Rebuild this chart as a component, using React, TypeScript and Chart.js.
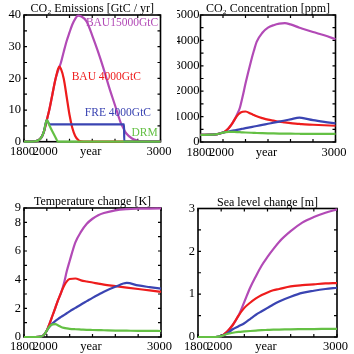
import React, { useEffect, useRef } from "react";
import { Chart, registerables } from "chart.js";
Chart.register(...registerables);

const FONT = "'Liberation Serif', 'Times New Roman', serif";
const PURPLE = "#b24ab6";
const RED = "#ee1c1c";
const BLUE = "#3a44b2";
const GREEN = "#64c044";

// x axis
const X_TICK_VALUES = [1800, 2000, 2400, 3000];
const X_TICK_LABELS = ["1800", "2000", "year", "3000"];

// Panel 1: CO2 emissions [GtC/yr]
const emisYears = [1800, 1900, 1950, 1975, 2000, 2025, 2050, 2075, 2100, 2110, 2125, 2150, 2175, 2200, 2225, 2250, 2275, 2300, 2350, 2400, 2450, 2500, 2550, 2600, 2650, 2680, 2681, 2700, 2750, 2800, 2850, 3000];
const emisBAU15000 = [0, 0.1, 1.2, 3.2, 6.8, 10.5, 15, 19.5, 22.5, 23.5, 25, 28.5, 31.8, 34.5, 37, 38.8, 39.8, 39.6, 38, 33.5, 28.5, 23, 17, 11.5, 6, 3.8, 3.7, 2.6, 1, 0.3, 0, 0];
const emisBAU4000 = [0, 0.1, 1.2, 3.2, 6.8, 10.5, 15, 19.5, 23, 23.7, 23, 19.8, 14.2, 8.5, 4.3, 1.8, 0.6, 0.1, 0, 0, 0, 0, 0, 0, 0, 0, 0, 0, 0, 0, 0, 0];
const emisFRE4000 = [0, 0.1, 1.2, 3.2, 6.8, 5.5, 5.5, 5.5, 5.5, 5.5, 5.5, 5.5, 5.5, 5.5, 5.5, 5.5, 5.5, 5.5, 5.5, 5.5, 5.5, 5.5, 5.5, 5.5, 5.5, 5.5, 0, 0, 0, 0, 0, 0];
const emisDRM = [0, 0.1, 1.2, 3.2, 6.8, 5, 3.2, 1.5, 0, 0, 0, 0, 0, 0, 0, 0, 0, 0, 0, 0, 0, 0, 0, 0, 0, 0, 0, 0, 0, 0, 0, 0];
const emisNoteTexts = ["BAU15000GtC", "BAU 4000GtC", "FRE 4000GtC", "DRM"];
const emisNoteYears = [2344, 2219, 2335, 2745];
const emisNoteValues = [37.6, 20.3, 9.0, 2.8];

// Panel 2: CO2 concentration [ppm]
const concYears = [1800, 1900, 1950, 2000, 2025, 2050, 2075, 2100, 2125, 2150, 2175, 2200, 2250, 2275, 2300, 2350, 2400, 2450, 2500, 2550, 2600, 2680, 2700, 2800, 2900, 3000];
const concBAU15000 = [280, 290, 310, 370, 440, 540, 680, 860, 1080, 1350, 1800, 2300, 3200, 3600, 3950, 4300, 4500, 4600, 4660, 4680, 4630, 4500, 4470, 4330, 4200, 4050];
const concBAU4000 = [280, 290, 310, 370, 440, 540, 680, 860, 1030, 1140, 1190, 1200, 1110, 1060, 1010, 940, 880, 840, 800, 770, 740, 710, 700, 680, 660, 640];
const concFRE4000 = [280, 290, 310, 370, 392, 413, 435, 457, 479, 500, 522, 544, 587, 609, 630, 674, 717, 761, 804, 848, 891, 960, 950, 860, 790, 730];
const concDRM = [280, 290, 310, 370, 390, 400, 400, 395, 390, 385, 380, 375, 365, 360, 355, 348, 342, 337, 333, 330, 327, 324, 323, 320, 318, 316];

// Panel 3: temperature change [K]
const tempYears = [1800, 1900, 1950, 1980, 2000, 2025, 2050, 2075, 2100, 2125, 2150, 2175, 2200, 2250, 2300, 2350, 2400, 2450, 2500, 2600, 2700, 2800, 2900, 3000];
const tempBAU15000 = [0, 0, 0.03, 0.2, 0.45, 0.95, 1.5, 2.05, 2.6, 3.1, 3.75, 4.6, 5.3, 6.6, 7.35, 7.9, 8.25, 8.5, 8.65, 8.84, 8.92, 8.95, 8.96, 8.97];
const tempBAU4000 = [0, 0, 0.03, 0.2, 0.45, 0.95, 1.5, 2.05, 2.6, 3.1, 3.55, 3.88, 4.05, 4.08, 3.95, 3.87, 3.8, 3.72, 3.65, 3.55, 3.45, 3.35, 3.25, 3.15];
const tempFRE4000 = [0, 0, 0.03, 0.2, 0.45, 0.72, 0.95, 1.12, 1.27, 1.4, 1.53, 1.66, 1.79, 2.03, 2.27, 2.5, 2.73, 2.95, 3.16, 3.5, 3.77, 3.6, 3.48, 3.37];
const tempDRM = [0, 0, 0.03, 0.2, 0.45, 0.75, 0.88, 0.9, 0.8, 0.7, 0.64, 0.6, 0.57, 0.54, 0.52, 0.5, 0.49, 0.48, 0.47, 0.45, 0.44, 0.43, 0.43, 0.42];

// Panel 4: sea level change [m]
const seaYears = [1800, 1900, 1950, 2000, 2050, 2100, 2150, 2200, 2250, 2300, 2350, 2400, 2450, 2500, 2600, 2700, 2800, 2900, 3000];
const seaBAU15000 = [0, 0, 0, 0.02, 0.12, 0.28, 0.5, 0.82, 1.15, 1.42, 1.67, 1.87, 2.05, 2.22, 2.47, 2.67, 2.8, 2.9, 2.98];
const seaBAU4000 = [0, 0, 0, 0.02, 0.12, 0.28, 0.5, 0.68, 0.8, 0.9, 0.98, 1.04, 1.09, 1.12, 1.18, 1.21, 1.23, 1.25, 1.26];
const seaFRE4000 = [0, 0, 0, 0.02, 0.08, 0.18, 0.25, 0.32, 0.42, 0.52, 0.6, 0.68, 0.76, 0.83, 0.94, 1.03, 1.08, 1.12, 1.15];
const seaDRM = [0, 0, 0, 0.02, 0.07, 0.1, 0.12, 0.13, 0.14, 0.15, 0.16, 0.165, 0.17, 0.172, 0.18, 0.183, 0.186, 0.188, 0.19];

type Note = { text: string; x: number; y: number; color: string };
type PanelCfg = {
  title: string;
  years: number[];
  series: { data: number[]; color: string }[];
  yMax: number;
  yStep: number;
  yMinor: number;
  area: { l: number; r: number; t: number; b: number };
  yGap: number;
  xGap: number;
  notes?: Note[];
};

const SIZE = 177;

const panels: PanelCfg[] = [
  {
    title: "CO\u2082 Emissions [GtC / yr]",
    years: emisYears,
    series: [
      { data: emisDRM, color: GREEN },
      { data: emisFRE4000, color: BLUE },
      { data: emisBAU4000, color: RED },
      { data: emisBAU15000, color: PURPLE },
    ],
    yMax: 40, yStep: 10, yMinor: 5,
    area: { l: 24, r: 160.5, t: 15, b: 141.7 },
    yGap: 3, xGap: 3,
    notes: emisNoteTexts.map((t, i) => ({
      text: t, x: emisNoteYears[i], y: emisNoteValues[i],
      color: [PURPLE, RED, BLUE, GREEN][i],
    })),
  },
  {
    title: "CO\u2082 Concentration [ppm]",
    years: concYears,
    series: [
      { data: concDRM, color: GREEN },
      { data: concFRE4000, color: BLUE },
      { data: concBAU4000, color: RED },
      { data: concBAU15000, color: PURPLE },
    ],
    yMax: 5000, yStep: 1000, yMinor: 500,
    area: { l: 23.5, r: 158.5, t: 15, b: 142 },
    yGap: 1, xGap: 3,
  },
  {
    title: "Temperature change [K]",
    years: tempYears,
    series: [
      { data: tempDRM, color: GREEN },
      { data: tempFRE4000, color: BLUE },
      { data: tempBAU4000, color: RED },
      { data: tempBAU15000, color: PURPLE },
    ],
    yMax: 9, yStep: 2, yMinor: 1,
    area: { l: 24, r: 161, t: 31, b: 160 },
    yGap: 3, xGap: 2,
  },
  {
    title: "Sea level change [m]",
    years: seaYears,
    series: [
      { data: seaDRM, color: GREEN },
      { data: seaFRE4000, color: BLUE },
      { data: seaBAU4000, color: RED },
      { data: seaBAU15000, color: PURPLE },
    ],
    yMax: 3, yStep: 1, yMinor: 0.5,
    area: { l: 21, r: 160, t: 31.5, b: 160 },
    yGap: 3, xGap: 2,
  },
];

function Panel({ cfg, left, top }: { cfg: PanelCfg; left: number; top: number }) {
  const ref = useRef<HTMLCanvasElement | null>(null);
  useEffect(() => {
    if (!ref.current) return;
    const { area } = cfg;
    const framePlugin = {
      id: "frame",
      beforeDatasetsDraw(chart: any) {
        const { ctx, chartArea: ca, scales } = chart;
        ctx.save();
        ctx.strokeStyle = "#000";
        ctx.lineWidth = 1.6;
        ctx.strokeRect(ca.left, ca.top, ca.right - ca.left, ca.bottom - ca.top);
        ctx.lineWidth = 1.2;
        ctx.beginPath();
        for (let v = 1800; v <= 3000; v += 200) {
          const px = scales.x.getPixelForValue(v);
          ctx.moveTo(px, ca.bottom); ctx.lineTo(px, ca.bottom - 3);
          ctx.moveTo(px, ca.top); ctx.lineTo(px, ca.top + 3);
        }
        for (let v = 0; v <= cfg.yMax + 1e-9; v += cfg.yMinor) {
          const py = scales.y.getPixelForValue(v);
          ctx.moveTo(ca.left, py); ctx.lineTo(ca.left + 3, py);
          ctx.moveTo(ca.right, py); ctx.lineTo(ca.right - 3, py);
        }
        ctx.stroke();
        ctx.restore();
      },
      afterDraw(chart: any) {
        const { ctx, chartArea: ca, scales } = chart;
        ctx.save();
        ctx.fillStyle = "#000";
        ctx.font = `12px ${FONT}`;
        ctx.textAlign = "center";
        ctx.textBaseline = "alphabetic";
        ctx.fillText(cfg.title, (ca.left + ca.right) / 2, ca.top - 3);
        (cfg.notes || []).forEach((n) => {
          ctx.fillStyle = n.color;
          ctx.font = `11.5px ${FONT}`;
          ctx.textAlign = "left";
          ctx.textBaseline = "middle";
          ctx.fillText(n.text, scales.x.getPixelForValue(n.x), scales.y.getPixelForValue(n.y));
        });
        ctx.restore();
      },
    };
    const chart = new Chart(ref.current, {
      type: "line",
      data: {
        datasets: cfg.series.map((s) => ({
          data: cfg.years.map((x, i) => ({ x, y: s.data[i] })),
          borderColor: s.color,
          borderWidth: 2.2,
          pointRadius: 0,
          fill: false,
          clip: false,
          cubicInterpolationMode: "monotone" as const,
        })),
      },
      options: {
        animation: false,
        responsive: false,
        events: [],
        layout: { padding: { left: 0, right: SIZE - area.r, top: area.t, bottom: 0 } },
        plugins: { legend: { display: false }, tooltip: { enabled: false }, title: { display: false } },
        scales: {
          x: {
            type: "linear",
            min: 1800,
            max: 3000,
            afterBuildTicks: (s: any) => {
              s.ticks = X_TICK_VALUES.map((v) => ({ value: v }));
            },
            ticks: {
              autoSkip: false,
              maxRotation: 0,
              padding: cfg.xGap,
              labelOffset: -1.5,
              color: "#000",
              font: { family: FONT, size: 12.5 },
              callback: (v: any) => {
                const i = X_TICK_VALUES.indexOf(Number(v));
                return i >= 0 ? X_TICK_LABELS[i] : "";
              },
            },
            grid: { display: false, drawTicks: false },
            border: { display: false },
            afterFit: (s: any) => { s.height = SIZE - area.b; },
          },
          y: {
            type: "linear",
            min: 0,
            max: cfg.yMax,
            ticks: {
              stepSize: cfg.yStep,
              padding: cfg.yGap,
              color: "#000",
              font: { family: FONT, size: 12.5 },
              callback: (v: any) => String(v),
            },
            grid: { display: false, drawTicks: false },
            border: { display: false },
            afterFit: (s: any) => { s.width = area.l; },
          },
        },
      },
      plugins: [framePlugin],
    } as any);
    return () => chart.destroy();
  }, [cfg]);
  return (
    <canvas
      ref={ref}
      width={SIZE}
      height={SIZE}
      style={{ position: "absolute", left, top, width: SIZE, height: SIZE }}
    />
  );
}

export default function App() {
  return (
    <div style={{ position: "absolute", left: 0, top: 0, width: 354, height: 354, background: "#fff" }}>
      {panels.map((p, i) => (
        <Panel key={i} cfg={p} left={(i % 2) * SIZE} top={Math.floor(i / 2) * SIZE} />
      ))}
    </div>
  );
}
